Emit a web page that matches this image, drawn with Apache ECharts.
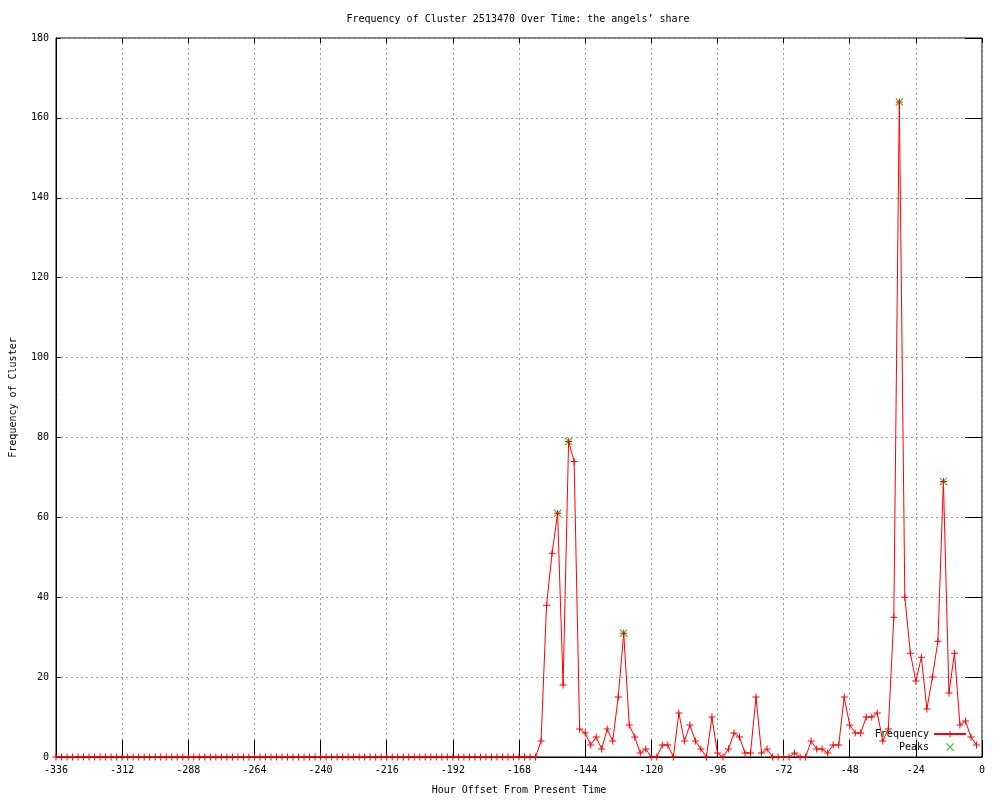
<!DOCTYPE html>
<html>
<head>
<meta charset="utf-8">
<script src="https://cdn.jsdelivr.net/npm/echarts@6/dist/echarts.min.js"></script>
<style>html,body{margin:0;padding:0;background:#fff}#c{width:1000px;height:800px}</style>
</head>
<body>
<div id="c"></div>
<script>
// Hours: every 2 hours from -336 to -2
const startHour = -336;
const stepHours = 2;
// Frequency values, one per 2-hour step, starting at -336
const frequency = [
  0,0,0,0,0,0,0,0,0,0,0,0,        // -336 .. -314
  0,0,0,0,0,0,0,0,0,0,0,0,        // -312 .. -290
  0,0,0,0,0,0,0,0,0,0,0,0,        // -288 .. -266
  0,0,0,0,0,0,0,0,0,0,0,0,        // -264 .. -242
  0,0,0,0,0,0,0,0,0,0,0,0,        // -240 .. -218
  0,0,0,0,0,0,0,0,0,0,0,0,        // -216 .. -194
  0,0,0,0,0,0,0,0,0,0,0,0,        // -192 .. -170
  0,0,0,0,                        // -168 .. -162
  4,38,51,61,18,79,74,7,6,3,5,2,  // -160 .. -138
  7,4,15,31,8,5,1,2,0,0,3,3,      // -136 .. -114
  0,11,4,8,4,2,0,10,1,0,2,6,      // -112 .. -90
  5,1,1,15,1,2,0,0,0,0,1,0,       // -88 .. -66
  0,4,2,2,1,3,3,15,8,6,6,10,      // -64 .. -42
  10,11,4,7,35,164,40,26,19,25,12,20, // -40 .. -18
  29,69,16,26,8,9,5,3             // -16 .. -2
];
const peakHours = [-154, -150, -130, -30, -14];
const peakValues = [61, 79, 31, 164, 69];
const xTicks = {min: -336, max: 0, interval: 24};
const yTicks = {min: 0, max: 180, interval: 20};

const freqData = frequency.map((v, i) => [startHour + i * stepHours, v]);
const peakData = peakHours.map((h, i) => [h, peakValues[i]]);

const FONT = 'DejaVu Sans Mono';
const plusPath = 'path://M0,3H7V4H0Z M3,0H4V7H3Z';
const crossPath = 'path://M0,0.7L0.7,0L7,6.3L6.3,7Z M6.3,0L7,0.7L0.7,7L0,6.3Z';

const chart = echarts.init(document.getElementById('c'), null, {renderer: 'canvas'});
const gridLine = {show: true, lineStyle: {color: '#a0a0a0', type: [2, 3], width: 1}};
chart.setOption({
  animation: false,
  backgroundColor: '#fff',
  title: {
    text: "Frequency of Cluster 2513470 Over Time: the angels\u2019 share",
    left: 513, top: 9, textAlign: 'center',
    textStyle: {fontFamily: FONT, fontSize: 10, fontWeight: 'normal', color: '#000'}
  },
  legend: {
    orient: 'vertical', right: 28, top: 724, align: 'right',
    itemWidth: 32, itemHeight: 8, itemGap: 3,
    textStyle: {fontFamily: FONT, fontSize: 10, color: '#000'},
    data: ['Frequency', 'Peaks']
  },
  grid: {left: 55, right: 18, top: 38, bottom: 40, show: true, borderColor: '#000', borderWidth: 1, backgroundColor: 'transparent'},
  xAxis: [{
    type: 'value', min: xTicks.min, max: xTicks.max, interval: xTicks.interval,
    name: 'Hour Offset From Present Time', nameLocation: 'middle', nameGap: 28,
    nameTextStyle: {fontFamily: FONT, fontSize: 10, color: '#000'},
    axisLine: {show: true, onZero: false, lineStyle: {color: '#000', width: 1}},
    axisTick: {show: true, inside: true, length: 17, lineStyle: {color: '#000'}},
    axisLabel: {fontFamily: FONT, fontSize: 10, color: '#000', margin: 8},
    splitLine: gridLine
  }, {
    type: 'value', position: 'top', min: xTicks.min, max: xTicks.max, interval: xTicks.interval,
    axisLine: {show: false, onZero: false},
    axisTick: {show: true, inside: true, length: 5, lineStyle: {color: '#000'}},
    axisLabel: {show: false}, splitLine: {show: false}
  }],
  yAxis: [{
    type: 'value', min: yTicks.min, max: yTicks.max, interval: yTicks.interval,
    name: 'Frequency of Cluster', nameLocation: 'middle', nameGap: 38,
    nameTextStyle: {fontFamily: FONT, fontSize: 10, color: '#000'},
    axisLine: {show: true, onZero: false, lineStyle: {color: '#000', width: 1}},
    axisTick: {show: true, inside: true, length: 5, lineStyle: {color: '#000'}},
    axisLabel: {fontFamily: FONT, fontSize: 10, color: '#000', margin: 7},
    splitLine: gridLine
  }, {
    type: 'value', position: 'right', min: yTicks.min, max: yTicks.max, interval: yTicks.interval,
    axisLine: {show: false, onZero: false},
    axisTick: {show: true, inside: true, length: 17, lineStyle: {color: '#000'}},
    axisLabel: {show: false}, splitLine: {show: false}
  }],
  series: [{
    name: 'Peaks', type: 'scatter', data: peakData, z: 2,
    symbol: crossPath, symbolSize: 8,
    itemStyle: {color: '#00b000'}
  }, {
    name: 'Frequency', type: 'line', data: freqData, z: 3,
    symbol: plusPath, symbolSize: 7, showAllSymbol: true,
    lineStyle: {color: '#ff0000', width: 1},
    itemStyle: {color: '#ff0000'}
  }]
});
</script>
</body>
</html>
